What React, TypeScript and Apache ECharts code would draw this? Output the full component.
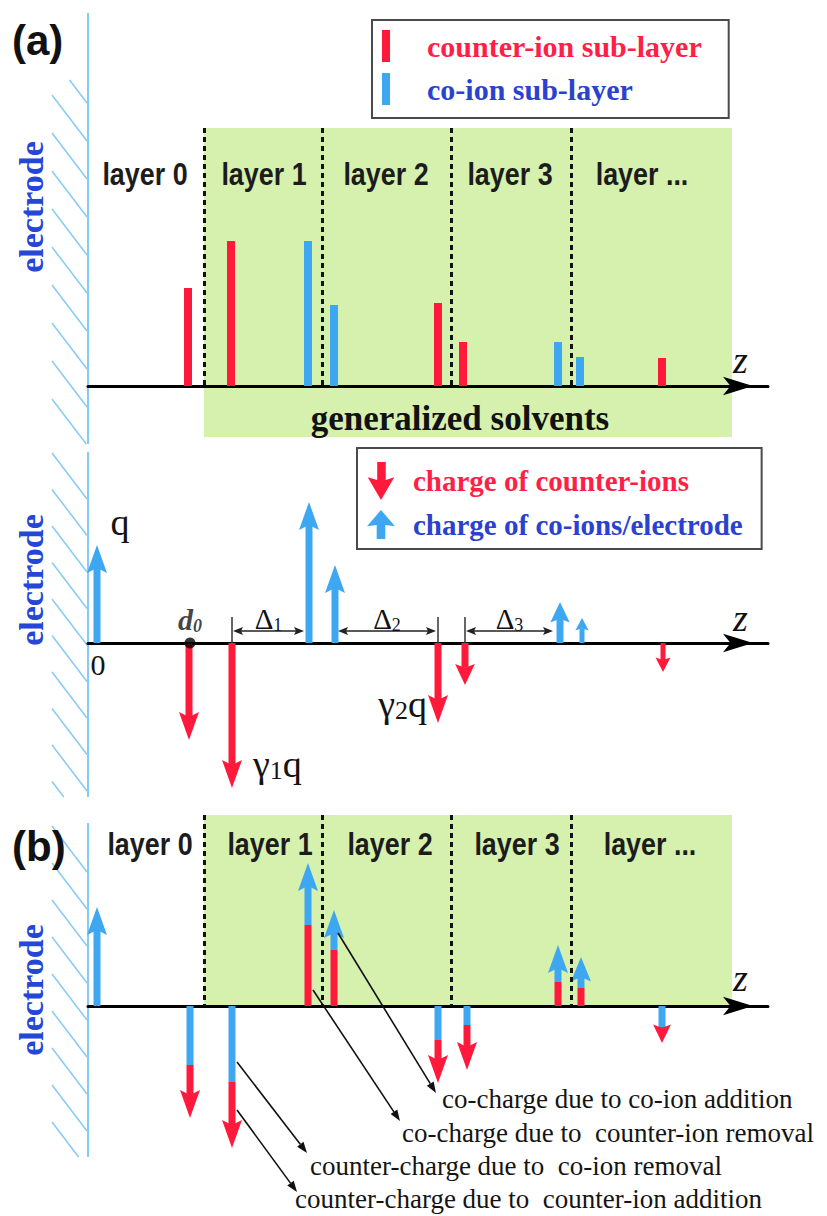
import React, { useEffect, useRef } from 'react';
import * as echarts from 'echarts';

// ---------- data (z in arbitrary length units, magnitudes in arbitrary charge units) ----------
const layerBounds = [11.6, 23.4, 36.3, 48.3];
const solventEnd = 64.4;
const layerNames = ['layer 0', 'layer 1', 'layer 2', 'layer 3', 'layer ...'];
const layerLabelZa = [5.7, 17.6, 29.8, 42.2, 55.4];
const layerLabelZb = [6.2, 18.2, 30.2, 42.9, 56.2];

// panel (a), top: sub-layer occupancy [z, height]
const counterIonSubLayers = [[10.0, 9.8], [14.3, 14.5], [35.0, 8.3], [37.5, 4.4], [57.4, 2.8]];
const coIonSubLayers = [[22.0, 14.5], [24.6, 8.1], [47.0, 4.4], [49.2, 2.9]];

// panel (a), middle: charges [z, charge]
const counterIonCharges = [[10.1, -9.7], [14.4, -14.5], [35.0, -8.0], [37.7, -4.2], [57.5, -2.9]];
const coIonCharges = [[0.9, 9.8], [22.1, 14.1], [24.7, 7.8], [47.2, 4.1], [49.4, 2.5]];
const d0Point = [[10.2, 0]];
const spacingFrom = [14.5, 25.0, 37.8];
const spacingTo = [21.6, 34.8, 46.5];
const spacingNames = ['1', '2', '3'];
const spacingTicks = [14.4, 35.0, 37.7];
const chargeLabelText = ['q', '0', 'γ1q', 'γ2q'];
const chargeLabelAt = [[3.2, 12.1], [1.0, -2.1], [16.5, -12.1], [33.9, -6.1]];

// panel (b): [z, first segment end, arrow tip]
const chargeChanges = [
  [0.9, 0, 9.9], [10.2, -5.9, -11.2], [14.4, -7.6, -14.2], [22.0, 8.1, 14.3], [24.6, 5.6, 9.6],
  [35.0, -3.4, -7.7], [37.9, -1.9, -6.4], [47.0, 2.4, 6.1], [49.3, 1.8, 4.9], [57.4, -2.1, -3.7],
];
const annotationText = [
  'co-charge due to co-ion addition',
  'co-charge due to  counter-ion removal',
  'counter-charge due to  co-ion removal',
  'counter-charge due to  counter-ion addition',
];
const annotationFrom = [[25.0, 7.3], [22.5, 1.6], [14.9, -5.6], [14.9, -10.4]];
const annotationTo = [[34.8, -8.7], [31.2, -11.5], [21.9, -14.7], [20.9, -18.6]];
const annotationTextAt = [[35.4, -9.3], [31.4, -12.7], [22.2, -16.0], [20.7, -19.3]];

// ---------- styles ----------
const RED = '#ff1a3c';
const BLUE = '#3ea7f1';
const RED_TEXT = '#ff1f47';
const BLUE_TEXT = '#2a42cf';
const GREEN = '#d6f0ae';
const ELECTRODE = '#86cbf4';
const SERIF = '"Liberation Serif", "Times New Roman", serif';
const SANS = '"Liberation Sans", Arial, sans-serif';

function arrowGroup(x: number, yBase: number, yTip: number, ySplit: number | null, c1: string, c2: string) {
  const dir = yTip < yBase ? -1 : 1;
  const len = Math.abs(yTip - yBase);
  const headLen = Math.min(28, len * 0.5);
  const headW = Math.min(20, headLen * 0.75 + 4);
  const shaftW = len > 35 ? 7 : 5;
  const notch = headLen * 0.18;
  const yWing = yTip - dir * headLen;
  const yShaftEnd = yWing + dir * notch;
  const seg = (ya: number, yb: number, color: string) => ({
    type: 'rect',
    shape: { x: x - shaftW / 2, y: Math.min(ya, yb), width: shaftW, height: Math.abs(yb - ya) },
    style: { fill: color },
  });
  const children: any[] = [];
  if (ySplit !== null && Math.abs(ySplit - yBase) > 0.5) {
    children.push(seg(yBase, ySplit, c1));
    children.push(seg(ySplit, yShaftEnd, c2));
  } else {
    children.push(seg(yBase, yShaftEnd, c2));
  }
  children.push({
    type: 'polygon',
    shape: { points: [[x, yTip], [x + headW / 2, yWing], [x, yWing + dir * notch], [x - headW / 2, yWing]] },
    style: { fill: c2 },
  });
  return { type: 'group', children };
}

function hatchLines(start: number, step: number, count: number, top: number, bottom: number) {
  const out: any[] = [];
  const dx = 35;
  const dy = 46;
  for (let k = 0; k < count; k++) {
    const y0 = start + step * k;
    let t0 = 0;
    let t1 = 1;
    if (y0 < top) t0 = (top - y0) / dy;
    if (y0 + dy > bottom) t1 = (bottom - y0) / dy;
    if (t1 <= t0) continue;
    out.push({
      type: 'line',
      silent: true,
      shape: { x1: 52 + dx * t0, y1: y0 + dy * t0, x2: 52 + dx * t1, y2: y0 + dy * t1 },
      style: { stroke: ELECTRODE, lineWidth: 1.5 },
    });
  }
  return out;
}

function xAxisFor(gridIndex: number, namePad: number) {
  return {
    type: 'value',
    gridIndex,
    min: 0,
    max: 68,
    z: 3,
    axisLine: {
      show: true,
      onZero: true,
      lineStyle: { color: '#000', width: 3 },
      symbol: ['none', 'arrow'],
      symbolSize: [14, 30],
      symbolOffset: [0, -15],
    },
    axisTick: { show: false },
    axisLabel: { show: false },
    splitLine: { show: false },
    name: 'z',
    nameLocation: 'end',
    nameGap: -35,
    nameTextStyle: {
      fontFamily: SERIF,
      fontStyle: 'italic',
      fontSize: 38,
      color: '#111',
      align: 'left',
      verticalAlign: 'bottom',
      padding: [0, 0, namePad, 0],
    },
  };
}

function textEl(x: number, y: number, text: string, extra: any) {
  return {
    type: 'text',
    x,
    y,
    style: Object.assign({ text, align: 'center', verticalAlign: 'middle', textAlign: 'center', textVerticalAlign: 'middle', fill: '#111' }, extra),
  };
}

function layerLabelSeries(xi: number, zs: number[], yVal: number) {
  return {
    type: 'custom',
    xAxisIndex: xi,
    yAxisIndex: xi,
    z: 4,
    silent: true,
    data: zs.map((z) => [z, yVal]),
    renderItem: (params: any, api: any) => {
      const p = api.coord([api.value(0), api.value(1)]);
      return {
        type: 'text',
        x: p[0],
        y: p[1],
        scaleX: 0.84,
        style: {
          text: layerNames[params.dataIndex],
          fontFamily: SANS,
          fontWeight: 'bold',
          fontSize: 32,
          fill: '#1c1c1c',
          align: 'center',
          verticalAlign: 'middle',
          textAlign: 'center',
          textVerticalAlign: 'middle',
        },
      };
    },
  };
}

function barSeries(name: string, color: string, data: number[][]) {
  return {
    type: 'custom',
    name,
    xAxisIndex: 0,
    yAxisIndex: 0,
    z: 4,
    itemStyle: { color },
    data,
    renderItem: (params: any, api: any) => {
      const p0 = api.coord([api.value(0), 0]);
      const p1 = api.coord([api.value(0), api.value(1)]);
      return { type: 'rect', shape: { x: p0[0] - 4, y: p1[1], width: 8, height: p0[1] - p1[1] }, style: { fill: api.visual('color') } };
    },
  };
}

function chargeSeries(name: string, color: string, data: number[][]) {
  return {
    type: 'custom',
    name,
    xAxisIndex: 1,
    yAxisIndex: 1,
    z: 4,
    itemStyle: { color },
    data,
    renderItem: (params: any, api: any) => {
      const p0 = api.coord([api.value(0), 0]);
      const p1 = api.coord([api.value(0), api.value(1)]);
      const c = api.visual('color');
      return arrowGroup(p0[0], p0[1], p1[1], null, c, c);
    },
  };
}

function buildOption(): any {
  const downArrow = 'path://M10,0 L19,0 L19,19 L28,16 L14,40 L0,16 L10,19 Z';
  const upArrow = 'path://M13,0 L26,15 L17,14 L17,27 L9,27 L9,14 L0,15 Z';

  const graphic: any[] = [
    { type: 'line', silent: true, shape: { x1: 88, y1: 13, x2: 88, y2: 444 }, style: { stroke: ELECTRODE, lineWidth: 2 } },
    { type: 'line', silent: true, shape: { x1: 88, y1: 452, x2: 88, y2: 797 }, style: { stroke: ELECTRODE, lineWidth: 2 } },
    { type: 'line', silent: true, shape: { x1: 88, y1: 823, x2: 88, y2: 1157 }, style: { stroke: ELECTRODE, lineWidth: 2 } },
    ...hatchLines(57, 38, 10, 80, 444),
    ...hatchLines(453, 36.5, 10, 452, 797),
    ...hatchLines(826, 37, 9, 823, 1157),
    textEl(12, 40, '(a)', { fontFamily: SANS, fontWeight: 'bold', fontSize: 42, align: 'left', textAlign: 'left', fill: '#111' }),
    textEl(12, 846, '(b)', { fontFamily: SANS, fontWeight: 'bold', fontSize: 42, align: 'left', textAlign: 'left', fill: '#111' }),
  ];
  [207, 580, 990].forEach((cy) => {
    graphic.push({
      type: 'text',
      x: 31,
      y: cy,
      rotation: Math.PI / 2,
      silent: true,
      style: {
        text: 'electrode',
        fontFamily: SERIF,
        fontWeight: 'bold',
        fontSize: 34,
        fill: '#2447d8',
        align: 'center',
        verticalAlign: 'middle',
        textAlign: 'center',
        textVerticalAlign: 'middle',
      },
    });
  });

  const dashed = { color: '#111', type: [5, 4], width: 3 };

  const series: any[] = [
    // ---- panel (a) top ----
    {
      type: 'custom',
      name: 'solvent background a',
      xAxisIndex: 0,
      yAxisIndex: 0,
      z: 1,
      silent: true,
      data: [[0, 0]],
      renderItem: () => ({ type: 'group', children: [] }),
      markArea: {
        silent: true,
        itemStyle: { color: GREEN },
        label: {
          show: true,
          position: 'insideBottom',
          distance: 1,
          offset: [-8, 0],
          formatter: 'generalized solvents',
          fontFamily: SERIF,
          fontWeight: 'bold',
          fontSize: 35,
          color: '#111',
        },
        data: [[{ coord: [layerBounds[0], 25.8] }, { coord: [solventEnd, -5.1] }]],
      },
      markLine: {
        silent: true,
        symbol: ['none', 'none'],
        label: { show: false },
        lineStyle: dashed,
        data: layerBounds.map((b) => [{ coord: [b, 25.8] }, { coord: [b, 0] }]),
      },
    },
    barSeries('counter-ion sub-layer', RED, counterIonSubLayers),
    barSeries('co-ion sub-layer', BLUE, coIonSubLayers),
    layerLabelSeries(0, layerLabelZa, 21.2),

    // ---- panel (a) middle ----
    chargeSeries('charge of counter-ions', RED, counterIonCharges),
    chargeSeries('charge of co-ions/electrode', BLUE, coIonCharges),
    {
      type: 'custom',
      name: 'spacing ticks',
      xAxisIndex: 1,
      yAxisIndex: 1,
      z: 4,
      silent: true,
      data: spacingTicks.map((z) => [z, 2.6]),
      renderItem: (params: any, api: any) => {
        const a = api.coord([api.value(0), 0]);
        const b = api.coord([api.value(0), api.value(1)]);
        return { type: 'line', shape: { x1: a[0], y1: a[1], x2: b[0], y2: b[1] }, style: { stroke: '#333', lineWidth: 1.5 } };
      },
    },
    {
      type: 'custom',
      name: 'layer spacings',
      xAxisIndex: 1,
      yAxisIndex: 1,
      z: 4,
      silent: true,
      data: spacingFrom.map((f, i) => [f, spacingTo[i], 1.2]),
      renderItem: (params: any, api: any) => {
        const a = api.coord([api.value(0), api.value(2)]);
        const b = api.coord([api.value(1), api.value(2)]);
        const lab = api.coord([(api.value(0) + api.value(1)) / 2, 2.4]);
        const y = a[1];
        const hl = 10;
        const hw = 4;
        return {
          type: 'group',
          children: [
            { type: 'line', shape: { x1: a[0] + 3, y1: y, x2: b[0] - 3, y2: y }, style: { stroke: '#222', lineWidth: 1.5 } },
            { type: 'polygon', shape: { points: [[a[0], y], [a[0] + hl, y - hw], [a[0] + hl - 2, y], [a[0] + hl, y + hw]] }, style: { fill: '#222' } },
            { type: 'polygon', shape: { points: [[b[0], y], [b[0] - hl, y - hw], [b[0] - hl + 2, y], [b[0] - hl, y + hw]] }, style: { fill: '#222' } },
            {
              type: 'text',
              x: lab[0],
              y: lab[1],
              style: {
                text: '{d|Δ}{s|' + spacingNames[params.dataIndex] + '}',
                align: 'center',
                verticalAlign: 'middle',
                textAlign: 'center',
                textVerticalAlign: 'middle',
                rich: {
                  d: { fontFamily: SERIF, fontSize: 29, fill: '#111' },
                  s: { fontFamily: SERIF, fontSize: 18, fill: '#111', verticalAlign: 'bottom' },
                },
              },
            },
          ],
        };
      },
    },
    {
      type: 'scatter',
      name: 'd0',
      xAxisIndex: 1,
      yAxisIndex: 1,
      z: 6,
      silent: true,
      symbolSize: 11,
      itemStyle: { color: '#000' },
      data: d0Point,
      label: {
        show: true,
        position: 'top',
        distance: 3,
        formatter: '{d|d}{s|0}',
        rich: {
          d: { fontFamily: SERIF, fontStyle: 'italic', fontWeight: 'bold', fontSize: 30, color: '#111' },
          s: { fontFamily: SERIF, fontStyle: 'italic', fontWeight: 'bold', fontSize: 18, color: '#111', verticalAlign: 'bottom' },
        },
      },
    },
    {
      type: 'custom',
      name: 'charge labels',
      xAxisIndex: 1,
      yAxisIndex: 1,
      z: 5,
      silent: true,
      data: chargeLabelAt,
      renderItem: (params: any, api: any) => {
        const i = params.dataIndex;
        const p = api.coord([api.value(0), api.value(1)]);
        const t = chargeLabelText[i];
        const align = t.length === 3 ? (t[1] === '1' ? 'left' : 'right') : 'center';
        let text = '{q|' + t + '}';
        if (t.length === 3) text = '{q|' + t[0] + '}{n|' + t[1] + '}{q|' + t[2] + '}';
        const big = t === '0' ? 30 : 38;
        return {
          type: 'text',
          x: p[0],
          y: p[1],
          style: {
            text,
            align,
            verticalAlign: 'middle',
            textAlign: align,
            textVerticalAlign: 'middle',
            rich: {
              q: { fontFamily: SERIF, fontSize: big, fill: '#141414' },
              n: { fontFamily: SERIF, fontSize: 26, fill: '#141414', verticalAlign: 'bottom' },
            },
          },
        };
      },
    },

    // ---- panel (b) ----
    {
      type: 'custom',
      name: 'solvent background b',
      xAxisIndex: 2,
      yAxisIndex: 2,
      z: 1,
      silent: true,
      data: [[0, 0]],
      renderItem: () => ({ type: 'group', children: [] }),
      markArea: {
        silent: true,
        itemStyle: { color: GREEN },
        data: [[{ coord: [layerBounds[0], 19.1] }, { coord: [solventEnd, 0] }]],
      },
      markLine: {
        silent: true,
        symbol: ['none', 'none'],
        label: { show: false },
        lineStyle: dashed,
        data: layerBounds.map((b) => [{ coord: [b, 19.1] }, { coord: [b, 0] }]),
      },
    },
    {
      type: 'custom',
      name: 'charge changes',
      xAxisIndex: 2,
      yAxisIndex: 2,
      z: 4,
      silent: true,
      data: chargeChanges,
      renderItem: (params: any, api: any) => {
        const z = api.value(0);
        const p0 = api.coord([z, 0]);
        const ps = api.coord([z, api.value(1)]);
        const pt = api.coord([z, api.value(2)]);
        const up = api.value(2) > 0;
        return arrowGroup(p0[0], p0[1], pt[1], ps[1], up ? RED : BLUE, up ? BLUE : RED);
      },
    },
    layerLabelSeries(2, layerLabelZb, 16.2),
    {
      type: 'custom',
      name: 'annotations',
      xAxisIndex: 2,
      yAxisIndex: 2,
      z: 6,
      silent: true,
      data: annotationFrom.map((f, i) => [f[0], f[1], annotationTo[i][0], annotationTo[i][1]]),
      renderItem: (params: any, api: any) => {
        const i = params.dataIndex;
        const a = api.coord([api.value(0), api.value(1)]);
        const b = api.coord([api.value(2), api.value(3)]);
        const tp = api.coord(annotationTextAt[i]);
        const ang = Math.atan2(b[1] - a[1], b[0] - a[0]);
        const hl = 11;
        const hw = 4;
        const bx = b[0] - hl * Math.cos(ang);
        const by = b[1] - hl * Math.sin(ang);
        const nx = -Math.sin(ang) * hw;
        const ny = Math.cos(ang) * hw;
        return {
          type: 'group',
          children: [
            { type: 'line', shape: { x1: a[0], y1: a[1], x2: bx, y2: by }, style: { stroke: '#111', lineWidth: 1.6 } },
            { type: 'polygon', shape: { points: [[b[0], b[1]], [bx + nx, by + ny], [bx - nx, by - ny]] }, style: { fill: '#111' } },
            {
              type: 'text',
              x: tp[0],
              y: tp[1],
              style: {
                text: annotationText[i],
                fontFamily: SERIF,
                fontSize: 27,
                fill: '#141414',
                align: 'left',
                verticalAlign: 'middle',
                textAlign: 'left',
                textVerticalAlign: 'middle',
              },
            },
          ],
        };
      },
    },
  ];

  return {
    animation: false,
    backgroundColor: '#ffffff',
    grid: [
      { left: 88, top: 128, width: 680, height: 309 },
      { left: 88, top: 493, width: 680, height: 300 },
      { left: 88, top: 815, width: 680, height: 395 },
    ],
    xAxis: [xAxisFor(0, 7), xAxisFor(1, 6), xAxisFor(2, 9)],
    yAxis: [
      { type: 'value', gridIndex: 0, min: -5.1, max: 25.8, show: false },
      { type: 'value', gridIndex: 1, min: -15, max: 15, show: false },
      { type: 'value', gridIndex: 2, min: -20.4, max: 19.1, show: false },
    ],
    legend: [
      {
        orient: 'vertical',
        left: 372,
        top: 20,
        selectedMode: false,
        icon: 'rect',
        itemWidth: 8,
        itemHeight: 32,
        itemGap: 11,
        padding: [10, 27, 13, 10],
        borderColor: '#4a4a4a',
        borderWidth: 2,
        backgroundColor: '#fff',
        textStyle: { fontFamily: SERIF, fontWeight: 'bold', fontSize: 30, padding: [0, 0, 0, 32] },
        data: [
          { name: 'counter-ion sub-layer', textStyle: { color: RED_TEXT } },
          { name: 'co-ion sub-layer', textStyle: { color: BLUE_TEXT } },
        ],
      },
      {
        orient: 'vertical',
        left: 357,
        top: 448,
        selectedMode: false,
        itemWidth: 28,
        itemHeight: 38,
        itemGap: 10,
        padding: [14, 19, 10, 10],
        borderColor: '#4a4a4a',
        borderWidth: 2,
        backgroundColor: '#fff',
        textStyle: { fontFamily: SERIF, fontWeight: 'bold', fontSize: 29, padding: [0, 0, 0, 13] },
        data: [
          { name: 'charge of counter-ions', icon: downArrow, textStyle: { color: RED_TEXT } },
          { name: 'charge of co-ions/electrode', icon: upArrow, textStyle: { color: BLUE_TEXT } },
        ],
      },
    ],
    graphic,
    series,
  };
}

export default function App() {
  const ref = useRef<HTMLDivElement>(null);
  useEffect(() => {
    if (!ref.current) return;
    const chart = echarts.init(ref.current, null, { renderer: 'svg' });
    chart.setOption(buildOption());
    return () => chart.dispose();
  }, []);
  return (
    <div
      ref={ref}
      style={{ position: 'absolute', left: 0, top: 0, width: 827, height: 1216, background: '#fff' }}
    />
  );
}
